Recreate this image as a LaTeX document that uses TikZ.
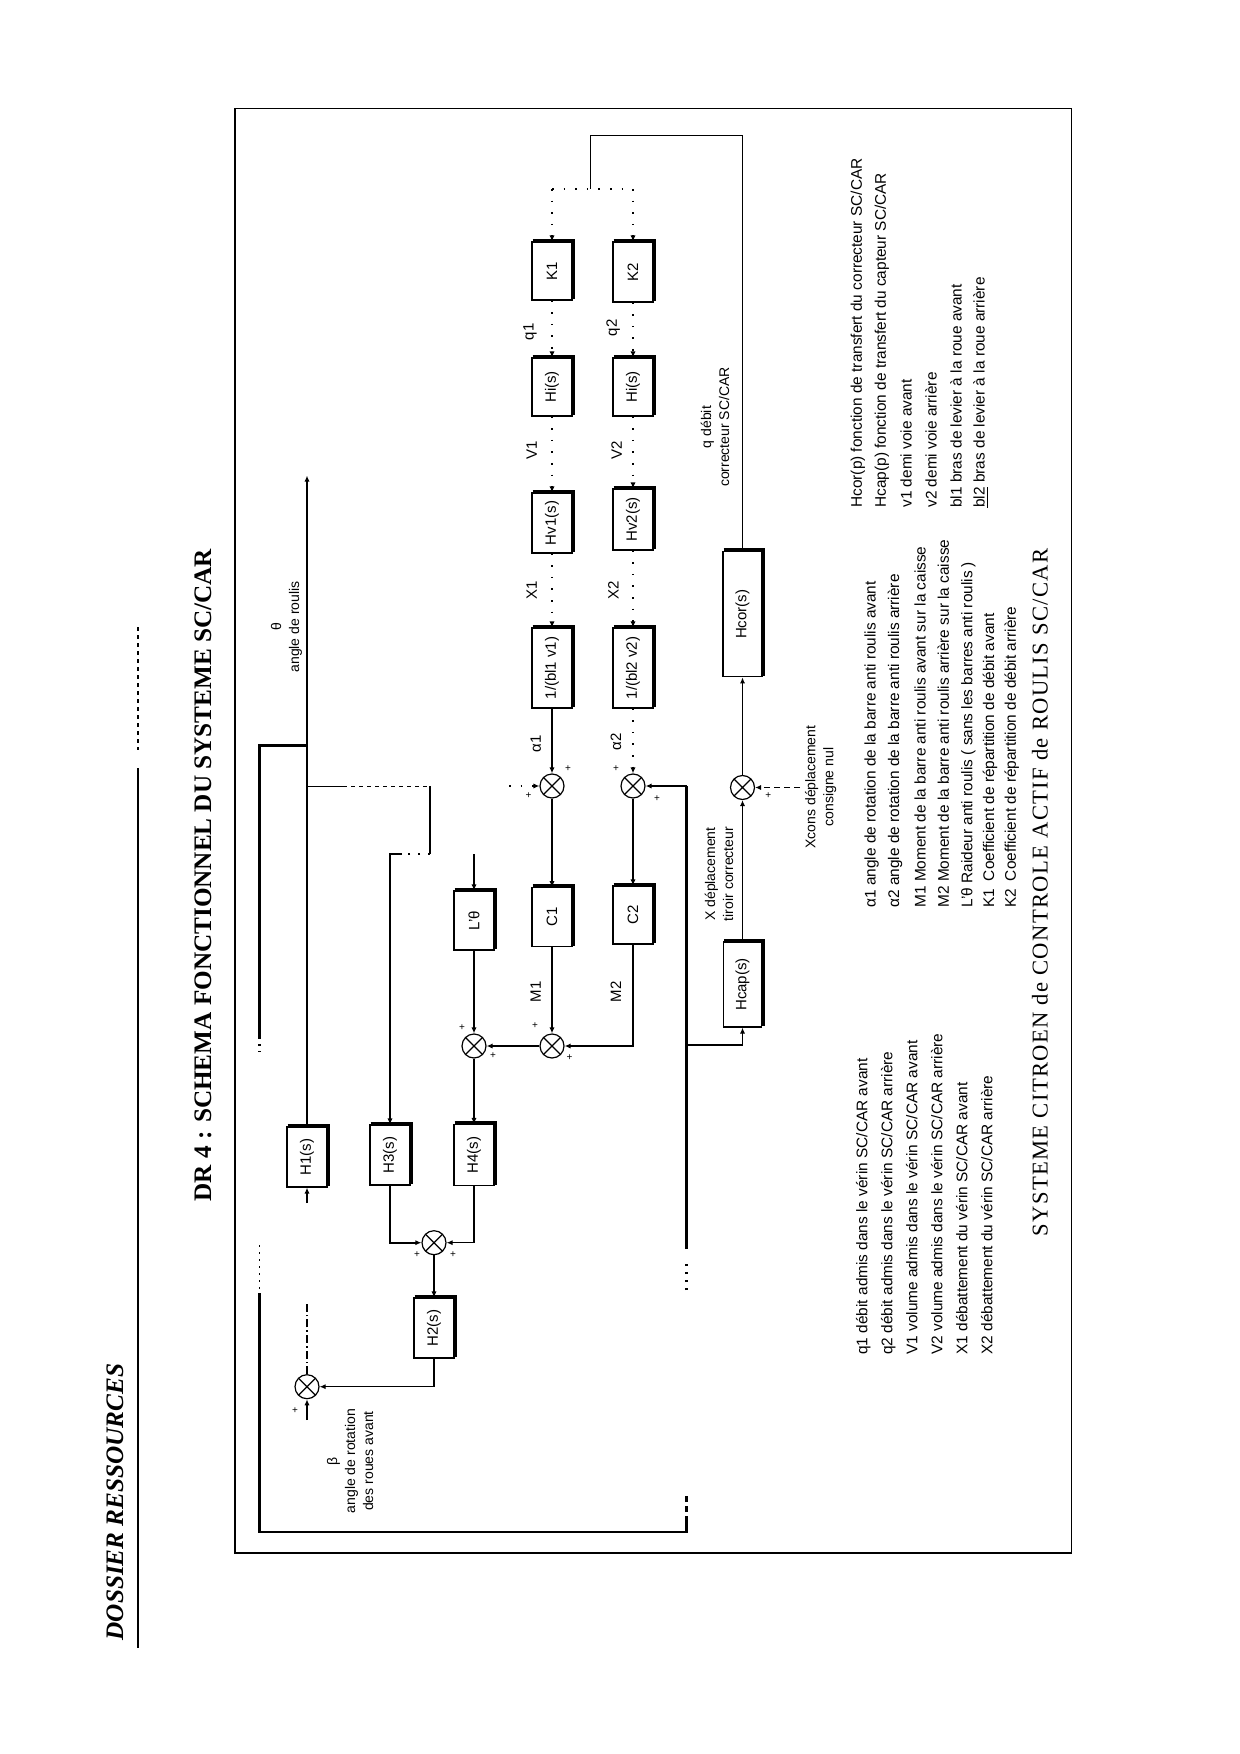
\documentclass[tikz,border=0pt]{standalone}
\usepackage{fontspec}
\setmainfont{Liberation Sans}
\newfontfamily\tnr{Liberation Serif}
\newfontfamily\tnrls[LetterSpace=6]{Liberation Serif}
\usetikzlibrary{arrows.meta}
\newcommand\boxshadow[1]{\draw[line width=1.5pt] ([shift={(1.3,-1.3)}]#1.north east) -- ([shift={(1.3,-1.3)}]#1.south east) -- ([shift={(1.3,-1.3)}]#1.south west);}
\begin{document}
\begin{tikzpicture}[x=0.5pt,y=-0.5pt,
  ln/.style={line width=0.6pt},
  lp/.style={line width=1.2pt},
  arr/.style={ln,-{Latex[length=3pt,width=2.6pt]}},
  dotl/.style={ln,dash pattern=on 0.8pt off 5pt},
  dotarr/.style={arr,dash pattern=on 0.8pt off 5pt},
  blk/.style={draw,ln,rotate=90,minimum height=20pt,inner sep=0pt,font=\fontsize{7.5}{8}\selectfont},
  sumj/.style={circle,draw,ln,minimum size=12pt,inner sep=0pt,
    path picture={\draw[ln] (path picture bounding box.north west) -- (path picture bounding box.south east)
      (path picture bounding box.north east) -- (path picture bounding box.south west);}},
  lbl/.style={rotate=90,inner sep=0pt,font=\fontsize{7.5}{8}\selectfont},
  mlbl/.style={rotate=90,inner sep=0pt,align=center,font=\fontsize{7}{9}\selectfont},
  sgn/.style={inner sep=0pt,font=\fontsize{5}{5}\selectfont},
  leg/.style={rotate=90,anchor=west,inner sep=0pt,font=\fontsize{7.7}{9}\selectfont}
]
\useasboundingbox (0,0) rectangle (1240,1754);
\fill[white] (0,0) rectangle (1240,1754);

% header and titles
\node[rotate=90,inner sep=0pt,font=\tnr\bfseries\itshape\fontsize{12.6}{14}\selectfont] (hdr) at (115,1502) {DOSSIER RESSOURCES};
\coordinate (ul1) at (138,627); \coordinate (ul2) at (138,750);
\coordinate (ul3) at (138,768); \coordinate (ul4) at (138,1647.5);
\draw[ln,dash pattern=on 2pt off 2pt] (ul1) -- (ul2);
\draw[line width=0.9pt] (ul3) -- (ul4);
\node[rotate=90,inner sep=0pt,font=\tnr\bfseries\fontsize{12.6}{14}\selectfont] (title) at (203,875) {DR 4 : SCHEMA FONCTIONNEL DU SYSTEME SC/CAR};

% frame
\draw[line width=0.7pt] (235,108.5) rectangle (1071.7,1553);

% blocks
\node[blk,minimum width=29pt] (k1) at (552,271) {K1};
\node[blk,minimum width=30pt] (k2) at (633,272) {K2};
\node[blk,minimum width=29pt] (hi1) at (552,387) {Hi(s)};
\node[blk,minimum width=29pt] (hi2) at (633,387) {Hi(s)};
\node[blk,minimum width=30pt] (hv1) at (552,523) {Hv1(s)};
\node[blk,minimum width=30.5pt] (hv2) at (633,519.5) {Hv2(s)};
\node[blk,minimum width=40pt] (b1) at (552,668) {1/(bl1 v1)};
\node[blk,minimum width=40pt] (b2) at (633,668) {1/(bl2 v2)};
\node[blk,minimum width=62.5pt,minimum height=19.5pt] (hcor) at (742.5,614.3) {Hcor(s)};
\node[blk,minimum width=42.5pt,minimum height=19pt] (hcap) at (742.5,984.5) {Hcap(s)};
\node[blk,minimum width=29.5pt] (lt) at (474,920.5) {L'θ};
\node[blk,minimum width=29.25pt] (c1) at (552,917) {C1};
\node[blk,minimum width=29pt] (c2) at (633,915) {C2};
\node[blk,minimum width=30pt] (h1) at (307,1157) {H1(s)};
\node[blk,minimum width=30pt] (h3) at (390,1155) {H3(s)};
\node[blk,minimum width=30.5pt] (h4) at (474,1155) {H4(s)};
\node[blk,minimum width=30pt] (h2) at (434,1328) {H2(s)};
\foreach \b in {k1,k2,hi1,hi2,hv1,hv2,b1,b2,hcor,hcap,lt,c1,c2,h1,h3,h4,h2} {\boxshadow{\b}}

% summing junctions
\node[sumj] (sbeta) at (307,1386.7) {};
\node[sumj] (s34) at (434,1242.7) {};
\node[sumj] (sa) at (474,1046) {};
\node[sumj] (sb) at (552,1046) {};
\node[sumj] (sal1) at (552,786) {};
\node[sumj] (sal2) at (633,786) {};
\node[sumj] (sx) at (742.5,787.5) {};

% signs
\node[sgn] at (295,1410.7) {+};
\node[sgn] at (417,1255) {+};
\node[sgn] at (453,1255) {+};
\node[sgn] at (462,1027.5) {+};
\node[sgn] at (493,1056) {+};
\node[sgn] at (535,1025.7) {+};
\node[sgn] at (569.6,1057.9) {+};
\node[sgn] at (528.6,796) {+};
\node[sgn] at (568,768.6) {+};
\node[sgn] at (616,768.6) {+};
\node[sgn] at (657,799) {+};
\node[sgn] at (768.3,795.4) {+};

% correcteur loop to K1 / K2
\coordinate (qa) at (742.5,135.6);
\coordinate (qb) at (590.7,135.6);
\coordinate (qs) at (590.7,189);
\coordinate (q1c) at (552,189);
\coordinate (q2c) at (633,189);
\draw[ln] (hcor.east) -- (qa) -- (qb) -- (qs);
\draw[dotl] (q1c) -- (q2c);
\draw[dotarr] (q1c) -- (k1.east);
\draw[dotarr] (q2c) -- (k2.east);
\draw[dotarr] (k1.west) -- (hi1.east);
\draw[dotarr] (hi1.west) -- (hv1.east);
\draw[dotarr] (hv1.west) -- (b1.east);
\draw[dotarr] (k2.west) -- (hi2.east);
\draw[dotarr] (hi2.west) -- (hv2.east);
\draw[dotarr] (hv2.west) -- (b2.east);

% alpha junctions
\draw[arr] (b1.west) -- (sal1.north);
\draw[dotarr] (b2.west) -- (sal2.north);
\coordinate (a1l) at (509,786);
\draw[dotarr] (a1l) -- (sal1.west);
\draw[arr] (sal1.south) -- (c1.east);
\draw[arr] (sal2.south) -- (c2.east);
\draw[arr] (c1.west) -- (sb.north);
\draw[arr] (c2.west) |- (sb.east);
\draw[arr] (sb.west) -- (sa.east);
\coordinate (ltin) at (474,854);
\draw[arr] (ltin) -- (lt.east);
\draw[arr] (lt.west) -- (sa.north);
\draw[arr] (sa.south) -- (h4.east);
\draw[arr] (h4.west) |- (s34.east);
\draw[arr,line width=0.9pt] (h3.west) |- (s34.west);
\draw[arr] (s34.south) -- (h2.east);
\draw[arr] (h2.west) |- (sbeta.east);
\coordinate (bin) at (307,1420);
\draw[arr] (bin) -- (sbeta.south);
\coordinate (bup) at (307,1302);
\draw[ln,dash pattern=on 4pt off 1.5pt on 0.8pt off 1.5pt] (sbeta.north) -- (bup);
\coordinate (h1in) at (307,1203);
\draw[arr] (h1in) -- (h1.west);

% theta output
\coordinate (thtip) at (307,475.6);
\draw[arr] (h1.east) -- (thtip);

% outer loop
\coordinate (br1) at (307,745.5);
\coordinate (lt1) at (259.5,745.5);
\coordinate (lt2) at (259.5,1037);
\coordinate (lt3) at (259.5,1052);
\coordinate (lt4) at (259.5,1245);
\coordinate (lt5) at (259.5,1293);
\coordinate (lt6) at (259.5,1531.7);
\coordinate (rb1) at (686.5,1531.7);
\coordinate (rb2) at (686.5,1522);
\coordinate (rb3) at (686.5,1495);
\coordinate (rb4) at (686.5,1290);
\coordinate (rb5) at (686.5,1263);
\coordinate (rb6) at (686.5,1249);
\coordinate (rtop) at (686.5,786);
\coordinate (hcj) at (686.5,1045);
\draw[lp] (br1) -- (lt1) -- (lt2);
\draw[lp,dash pattern=on 1pt off 2.5pt] (lt2) -- (lt3);
\draw[ln,dash pattern=on 1pt off 2.5pt] (lt4) -- (lt5);
\draw[lp] (lt5) -- (lt6) -- (rb1) -- (rb2);
\draw[lp,dash pattern=on 3pt off 2pt] (rb2) -- (rb3);
\draw[lp,dash pattern=on 1pt off 3pt] (rb4) -- (rb5);
\draw[lp] (rb6) -- (rtop);
\draw[arr,lp] (rtop) -- (sal2.east);
\draw[arr,line width=0.9pt] (hcj) -| (hcap.west);
\draw[arr] (hcap.east) -- (sx.south);
\draw[arr] (sx.north) -- (hcor.west);
\coordinate (xc) at (800,787.5);
\draw[arr,line width=0.9pt,dash pattern=on 3pt off 2pt] (xc) -- (sx.east);

% branch to H3
\coordinate (b3a) at (307,786.4);
\coordinate (b3b) at (343,786.4);
\coordinate (b3c) at (430,786.4);
\coordinate (b3d) at (430,854);
\coordinate (b3e) at (402,854);
\coordinate (b3f) at (390,854);
\draw[ln] (b3a) -- (b3b);
\draw[ln,dash pattern=on 2pt off 2pt] (b3b) -- (b3c);
\draw[ln] (b3c) -- (b3d);
\draw[ln,dash pattern=on 1pt off 4pt] (b3d) -- (b3e);
\draw[arr] (b3e) -- (b3f) -- (h3.east);

% signal labels
\node[mlbl] (lth) at (286.5,627) {θ\\angle de roulis};
\node[mlbl] (lbeta) at (350,1461) {β\\angle de rotation\\des roues avant};
\node[mlbl] (lq) at (715,427) {q débit\\correcteur SC/CAR};
\node[mlbl] (lx) at (719,874) {X déplacement\\tiroir correcteur};
\node[mlbl] (lxc) at (820.7,787) {Xcons déplacement\\consigne nul};
\node[lbl] (lq1) at (530,331.7) {q1};
\node[lbl] (lq2) at (613.3,328) {q2};
\node[lbl] (lv1) at (531.7,450) {V1};
\node[lbl] (lv2) at (616.7,450) {V2};
\node[lbl] (lx1) at (531.7,590) {X1};
\node[lbl] (lx2) at (613.3,590) {X2};
\node[lbl] (la1) at (535.7,743.6) {α1};
\node[lbl] (la2) at (616,741.8) {α2};
\node[lbl] (lm1) at (535.7,991.8) {M1};
\node[lbl] (lm2) at (616,991.8) {M2};

% legend
\node[leg] (g1) at (863.3,1355) {q1 débit admis dans le vérin SC/CAR avant};
\node[leg] (g2) at (888.3,1355) {q2 débit admis dans le vérin SC/CAR arrière};
\node[leg] (g3) at (911.7,1355) {V1 volume admis dans le vérin SC/CAR avant};
\node[leg] (g4) at (936.7,1355) {V2 volume admis dans le vérin SC/CAR arrière};
\node[leg] (g5) at (961.7,1355) {X1 débattement du vérin SC/CAR avant};
\node[leg] (g6) at (986.7,1355) {X2 débattement du vérin SC/CAR arrière};

\node[leg] (m1) at (871.7,908) {α1 angle de rotation de la barre anti roulis avant};
\node[leg] (m2) at (895,908) {α2 angle de rotation de la barre anti roulis arrière};
\node[leg] (m3) at (920,908) {M1 Moment de la barre anti roulis avant sur la caisse};
\node[leg] (m4) at (943.3,908) {M2 Moment de la barre anti roulis arrière sur la caisse};
\node[leg] (m5) at (968.3,908) {L'θ Raideur anti roulis ( sans les barres anti roulis )};
\node[leg] (m6) at (990,908) {K1\enspace Coefficient de répartition de débit avant};
\node[leg] (m7) at (1011.7,908) {K2\enspace Coefficient de répartition de débit arrière};

\node[leg] (r1) at (858,508) {Hcor(p) fonction de transfert du correcteur SC/CAR};
\node[leg] (r2) at (882,508) {Hcap(p) fonction de transfert du capteur SC/CAR};
\node[leg] (r3) at (906,508) {v1 demi voie avant};
\node[leg] (r4) at (931,508) {v2 demi voie arrière};
\node[leg] (r5) at (956,508) {bl1 bras de levier à la roue avant};
\node[leg] (r6) at (981,508) {\underline{bl2} bras de levier à la roue arrière};

\node[rotate=90,anchor=west,inner sep=0pt,font=\tnrls\fontsize{11.3}{13}\selectfont] (foot) at (1040,1236.7) {SYSTEME CITROEN de CONTROLE ACTIF de ROULIS SC/CAR};
\end{tikzpicture}
\end{document}
